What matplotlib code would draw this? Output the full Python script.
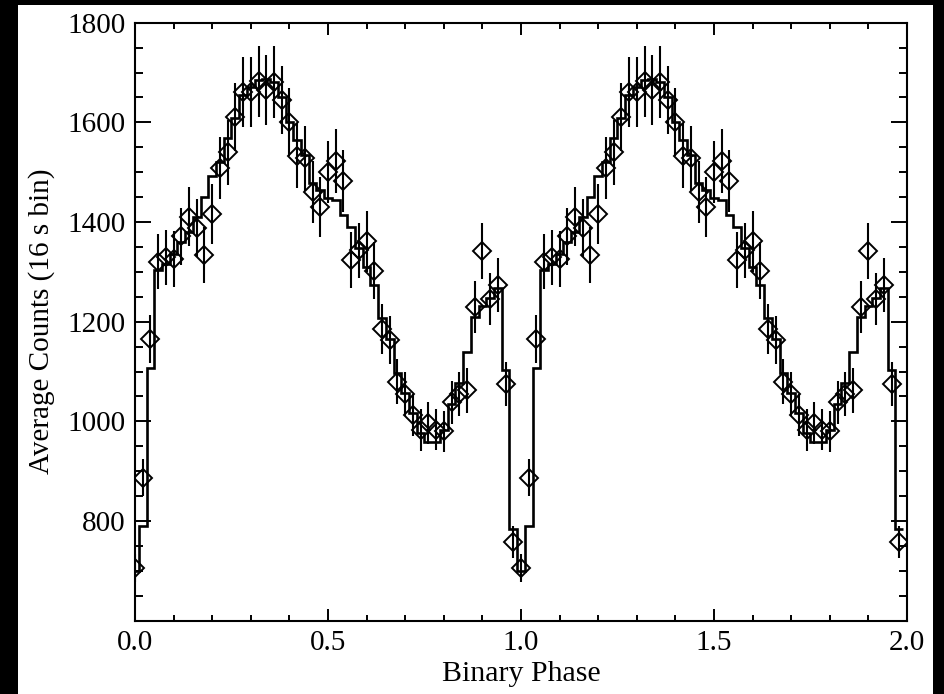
import numpy as np
import matplotlib.pyplot as plt
from matplotlib.patches import Rectangle
from matplotlib.ticker import MultipleLocator, FixedLocator

# folded light curve: 50 phase bins per cycle (width 0.02), drawn for two cycles
bin_width = 0.02
n_cycles = 2

# diamonds with error bars, one value per phase bin (phase 0.00 ... 0.98)
counts = [705, 887, 1166, 1320, 1329, 1326, 1371, 1411, 1388, 1334,
          1416, 1508, 1540, 1610, 1661, 1661, 1682, 1665, 1681, 1645,
          1601, 1533, 1528, 1461, 1430, 1501, 1523, 1483, 1324, 1343,
          1361, 1302, 1185, 1164, 1080, 1055, 1013, 982, 997, 983,
          980, 1038, 1055, 1062, 1229, 1342, 1245, 1274, 1075, 758]
errors = [28, 37, 48, 55, 55, 56, 58, 60, 58, 56,
          60, 62, 65, 68, 70, 70, 72, 70, 72, 68,
          68, 65, 65, 62, 60, 62, 64, 62, 56, 56,
          62, 57, 50, 48, 45, 44, 42, 42, 42, 41,
          41, 43, 44, 45, 52, 57, 52, 54, 44, 32]

# histogram (solid step line), same phase bins
hist_counts = [700, 790, 1107, 1303, 1315, 1335, 1360, 1380, 1410, 1450,
               1493, 1520, 1568, 1608, 1655, 1670, 1685, 1688, 1680, 1650,
               1600, 1565, 1535, 1478, 1465, 1448, 1445, 1415, 1391, 1348,
               1310, 1274, 1208, 1165, 1097, 1057, 1017, 977, 958, 958,
               983, 1035, 1077, 1139, 1209, 1231, 1248, 1268, 1103, 784]

n_bins = len(counts)
phase = np.arange(n_bins * n_cycles) * bin_width
edges = np.arange(n_bins * n_cycles + 1) * bin_width - bin_width / 2
counts2 = np.tile(counts, n_cycles)
errors2 = np.tile(errors, n_cycles)
hist2 = np.tile(hist_counts, n_cycles)

plt.rcParams['font.family'] = ['Liberation Serif', 'DejaVu Serif']
plt.rcParams['font.size'] = 21

fig = plt.figure(figsize=(9.44, 6.94), dpi=100, facecolor='black')
# white page with a thin black frame around it
fig.add_artist(Rectangle((18 / 944, 0), (933 - 18) / 944, (694 - 5) / 694,
                         transform=fig.transFigure, facecolor='white',
                         edgecolor='none', zorder=-1))

ax = fig.add_axes([0.1430, 0.1056, 0.8178, 0.8617])

ax.stairs(hist2, edges, baseline=None, color='black', lw=1.9)
ax.errorbar(phase, counts2, yerr=errors2, fmt='D', ms=8.8, mfc='none',
            mec='black', mew=1.4, ecolor='black', elinewidth=1.5, capsize=0)

ax.set_xlim(0, 2)
ax.set_ylim(600, 1800)
ax.xaxis.set_major_locator(MultipleLocator(0.5))
ax.xaxis.set_minor_locator(MultipleLocator(0.1))
ax.yaxis.set_major_locator(FixedLocator(range(800, 1801, 200)))
ax.yaxis.set_minor_locator(MultipleLocator(50))

ax.tick_params(which='both', direction='in', top=True, right=True, width=1.4)
ax.tick_params(axis='x', which='major', length=8.5, pad=7)
ax.tick_params(axis='x', which='minor', length=4.2)
ax.tick_params(axis='y', which='major', length=11.5, pad=7)
ax.tick_params(axis='y', which='minor', length=5.8)
for s in ax.spines.values():
    s.set_linewidth(1.5)

ax.set_xlabel('Binary Phase', fontsize=21.5, labelpad=3)
ax.set_ylabel('Average Counts (16 s bin)', labelpad=9)

fig.savefig('out.png', dpi=100, facecolor=fig.get_facecolor())
